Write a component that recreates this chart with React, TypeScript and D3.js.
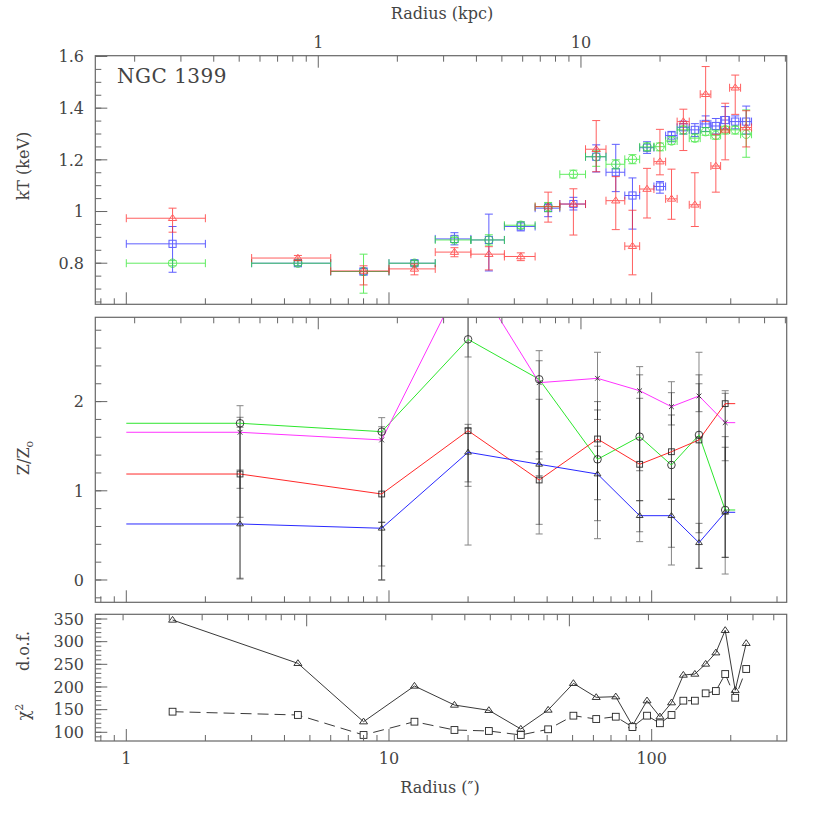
import React from "react";
import * as d3 from "d3";

// ---------- data ----------
// temperature profile bins (arcsec)
const radii = [1.5, 4.5, 8, 12.5, 17.75, 24, 31.75, 40.35, 50.35, 61.5, 73, 84.5, 96, 107.5, 119, 132, 146, 160.5, 175.5, 190.5, 208, 229];
const binLo = [1, 3, 6, 10, 15, 20.5, 27.5, 36, 44.7, 56, 67, 79, 90, 102, 113, 125, 139, 153, 168, 183, 198, 218];
const binHi = [2, 6, 10, 15, 20.5, 27.5, 36, 44.7, 56, 67, 79, 90, 102, 113, 125, 139, 153, 168, 183, 198, 218, 240];

const ktRed = [0.974, 0.82, 0.77, 0.778, 0.843, 0.835, 0.826, 1.019, 1.029, 1.241, 1.042, 0.866, 1.087, 1.193, 1.049, 1.348, 1.026, 1.454, 1.176, 1.316, 1.479, 1.325];
const ktRedLo = [0.92, 0.81, 0.716, 0.755, 0.825, 0.774, 0.81, 0.959, 0.909, 1.154, 0.93, 0.755, 0.975, 1.142, 0.97, 1.236, 0.942, 1.348, 1.075, 1.2, 1.376, 1.25];
const ktRedHi = [1.013, 0.83, 0.79, 0.797, 0.86, 0.864, 0.84, 1.075, 1.088, 1.352, 1.135, 1.005, 1.167, 1.318, 1.164, 1.396, 1.15, 1.561, 1.299, 1.419, 1.528, 1.39];

const ktBlue = [0.875, 0.8, 0.768, 0.8, 0.894, 0.89, 0.942, 1.013, 1.029, 1.212, 1.152, 1.062, 1.247, 1.097, 1.294, 1.326, 1.316, 1.339, 1.331, 1.354, 1.348, 1.348];
const ktBlueLo = [0.765, 0.79, 0.755, 0.79, 0.871, 0.77, 0.925, 0.98, 1.006, 1.153, 1.077, 0.932, 1.225, 1.071, 1.27, 1.3, 1.29, 1.31, 1.3, 1.32, 1.32, 1.3];
const ktBlueHi = [0.942, 0.81, 0.78, 0.81, 0.918, 0.99, 0.96, 1.03, 1.055, 1.258, 1.26, 1.13, 1.27, 1.116, 1.31, 1.35, 1.34, 1.37, 1.36, 1.406, 1.37, 1.408];

const ktGreen = [0.8, 0.8, 0.768, 0.8, 0.89, 0.89, 0.947, 1.019, 1.144, 1.212, 1.183, 1.202, 1.25, 1.251, 1.273, 1.316, 1.284, 1.309, 1.295, 1.316, 1.316, 1.299];
const ktGreenLo = [0.79, 0.79, 0.684, 0.79, 0.88, 0.87, 0.935, 1.0, 1.13, 1.175, 1.165, 1.185, 1.235, 1.235, 1.26, 1.3, 1.27, 1.295, 1.28, 1.3, 1.3, 1.21];
const ktGreenHi = [0.81, 0.81, 0.835, 0.81, 0.9, 0.91, 0.96, 1.035, 1.16, 1.235, 1.2, 1.22, 1.265, 1.265, 1.29, 1.33, 1.3, 1.325, 1.315, 1.33, 1.33, 1.393];

// abundance profile
const zRadii = [2.71, 9.38, 20, 37.3, 62.2, 90, 118.9, 151.4, 190.5];
const zLineStart = 1;
const zLineEnd = 208;
const zGreen = [1.757, 1.663, 2.698, 2.25, 1.353, 1.607, 1.289, 1.626, 0.785];
const zGreenLo = [0.011, 0.157, 0.392, 0.516, 0.665, 0.43, 0.168, 0.131, 0.067];
const zGreenHi = [1.954, 1.82, 3.6, 2.571, 1.906, 2.392, 2.223, 2.553, 1.488];
const zMagenta = [1.656, 1.57, 3.5, 2.212, 2.261, 2.122, 1.943, 2.063, 1.764];
const zMagentaLo = [1.028, 0.0, 2.5, 1.356, 1.8, 1.225, 1.738, 1.887, 1.337];
const zMagentaHi = [1.824, 1.718, 4.5, 2.458, 2.553, 2.3, 2.1, 2.3, 2.122];
const zRed = [1.188, 0.964, 1.674, 1.121, 1.581, 1.297, 1.438, 1.57, 1.977];
const zRedLo = [0.703, 0.647, 1.1, 0.624, 0.463, 0.889, 0.905, 0.53, 0.254];
const zRedHi = [1.712, 1.66, 1.745, 2.026, 2.0, 2.037, 1.85, 2.2, 2.093];
const zBlue = [0.628, 0.58, 1.432, 1.297, 1.188, 0.721, 0.721, 0.418, 0.759];
const zBlueLo = [0.02, 0.0, 1.05, 1.169, 0.9, 0.541, 0.367, 0.131, 0.254];
const zBlueHi = [1.233, 0.647, 1.7, 1.438, 1.5, 0.889, 0.905, 0.635, 1.607];

// chi-square profile
const chiA = [347.8, 252.2, 123.4, 202.2, 160.2, 148.5, 107.3, 149.2, 208.1, 177.2, 178.6, 114.6, 169.8, 134.4, 165.4, 226.4, 228.6, 250.7, 275.6, 325.1, 192.7, 296.4];
const chiB = [145.5, 138.2, 94.1, 123.4, 105.1, 102.9, 94.1, 106.6, 136.7, 129.3, 134.4, 111.6, 136.7, 119.9, 138.2, 169.8, 169.8, 186.0, 191.1, 228.6, 176.3, 239.7];

// axes
const arcTicks = [0.8, 0.9, 1, 2, 3, 4, 5, 6, 7, 8, 9, 10, 20, 30, 40, 50, 60, 70, 80, 90, 100, 200, 300];
const arcMajor = [1, 10, 100];
const arcLabels = ["1", "10", "100"];
const kpcTicks = [0.2, 0.3, 0.4, 0.5, 0.6, 0.7, 0.8, 0.9, 1, 2, 3, 4, 5, 6, 7, 8, 9, 10, 20, 30, 40, 50, 60];
const kpcMajor = [1, 10];
const kpcLabels = ["1", "10"];
const ktMajor = [0.8, 1, 1.2, 1.4, 1.6];
const ktLabels = ["0.8", "1", "1.2", "1.4", "1.6"];
const zMajor = [0, 1, 2];
const zLabels = ["0", "1", "2"];
const chiMajor = [100, 150, 200, 250, 300, 350];
const chiLabels = ["100", "150", "200", "250", "300", "350"];

// ---------- layout ----------
const X0 = 95.3, X1 = 786.7;
const x = d3.scaleLog().domain([0.762, 326.6]).range([X0, X1]);
const P1 = { top: 55.7, bottom: 304.3 };
const P2 = { top: 317.3, bottom: 602.3 };
const P3 = { top: 614.3, bottom: 741 };
const yKt = d3.scaleLinear().domain([0.641, 1.603]).range([P1.bottom, P1.top]);
const yZ = d3.scaleLinear().domain([-0.25, 2.945]).range([P2.bottom, P2.top]);
const yChi = d3.scaleLinear().domain([80.8, 360.4]).range([P3.bottom, P3.top]);

const FONT = "'DejaVu Serif', 'Liberation Serif', serif";
const TXT = "#444";
const FRAME = "#666";
const RED = "#ff2a2a";
const BLUE = "#2a2aff";
const GREEN = "#2ee62e";
const MAG = "#ff33ff";

function Marker({ type, cx, cy, s, color, sw = 1 }: any) {
  if (type === "tri") {
    const h = s * 0.9;
    return <path d={`M${cx},${cy - h} L${cx + s},${cy + h * 0.6} L${cx - s},${cy + h * 0.6} Z`} fill="none" stroke={color} strokeWidth={sw} />;
  }
  if (type === "sq") return <rect x={cx - s * 0.85} y={cy - s * 0.85} width={s * 1.7} height={s * 1.7} fill="none" stroke={color} strokeWidth={sw} />;
  if (type === "circ") return <circle cx={cx} cy={cy} r={s} fill="none" stroke={color} strokeWidth={sw} />;
  return (
    <path d={`M${cx - s * 0.7},${cy - s * 0.7} L${cx + s * 0.7},${cy + s * 0.7} M${cx - s * 0.7},${cy + s * 0.7} L${cx + s * 0.7},${cy - s * 0.7}`} fill="none" stroke={color} strokeWidth={sw} />
  );
}

function PanelAxes({ p, y, major, labels, minor, kpcFactor, showKpcLabels, showArcLabels }: any) {
  const els: any[] = [];
  arcTicks.forEach((t, i) => {
    const L = arcMajor.includes(t) ? 12 : 6;
    const xx = x(t);
    els.push(<line key={"ab" + i} x1={xx} x2={xx} y1={p.bottom} y2={p.bottom - L} stroke={FRAME} />);
  });
  kpcTicks.forEach((t, i) => {
    const r = t * kpcFactor;
    if (r < x.domain()[0] || r > x.domain()[1]) return;
    const L = kpcMajor.includes(t) ? 12 : 6;
    const xx = x(r);
    els.push(<line key={"kt" + i} x1={xx} x2={xx} y1={p.top} y2={p.top + L} stroke={FRAME} />);
  });
  minor.forEach((v: number, i: number) => {
    const yy = y(v);
    if (yy < p.top - 0.5 || yy > p.bottom + 0.5) return;
    els.push(<line key={"ym" + i} x1={X0} x2={X0 + 6} y1={yy} y2={yy} stroke={FRAME} />);
  });
  major.forEach((v: number, i: number) => {
    const yy = y(v);
    els.push(<line key={"yM" + i} x1={X0} x2={X0 + 12} y1={yy} y2={yy} stroke={FRAME} />);
    els.push(
      <text key={"yl" + i} x={84} y={yy} dy="0.36em" textAnchor="end" fontSize={16} fill={TXT} fontFamily={FONT}>
        {labels[i]}
      </text>
    );
  });
  if (showKpcLabels) {
    kpcMajor.forEach((t, i) => {
      els.push(
        <text key={"kl" + i} x={x(t * kpcFactor)} y={48} textAnchor="middle" fontSize={16} fill={TXT} fontFamily={FONT}>
          {kpcLabels[i]}
        </text>
      );
    });
  }
  if (showArcLabels) {
    arcMajor.forEach((t, i) => {
      els.push(
        <text key={"al" + i} x={x(t)} y={764} textAnchor="middle" fontSize={16} fill={TXT} fontFamily={FONT}>
          {arcLabels[i]}
        </text>
      );
    });
  }
  els.push(<rect key="frame" x={X0} y={p.top} width={X1 - X0} height={p.bottom - p.top} fill="none" stroke={FRAME} strokeWidth={1.2} />);
  return <g>{els}</g>;
}

function KtSeries({ vals, lo, hi, color, type }: any) {
  return (
    <g opacity={0.75}>
      {vals.map((v: number, i: number) => {
        const cx = x(radii[i]);
        const cy = yKt(v);
        const xl = x(binLo[i]);
        const xh = x(binHi[i]);
        const yl = yKt(lo[i]);
        const yh = yKt(hi[i]);
        return (
          <g key={i} stroke={color} strokeWidth={1}>
            <line x1={xl} x2={xh} y1={cy} y2={cy} />
            <line x1={xl} x2={xl} y1={cy - 4} y2={cy + 4} />
            <line x1={xh} x2={xh} y1={cy - 4} y2={cy + 4} />
            <line x1={cx} x2={cx} y1={yl} y2={yh} />
            <line x1={cx - 4} x2={cx + 4} y1={yl} y2={yl} />
            <line x1={cx - 4} x2={cx + 4} y1={yh} y2={yh} />
            <Marker type={type} cx={cx} cy={cy} s={4.2} color={color} />
          </g>
        );
      })}
    </g>
  );
}

function ZSeries({ vals, color }: any) {
  const pts: [number, number][] = [[zLineStart, vals[0]], ...zRadii.map((r, i) => [r, vals[i]] as [number, number]), [zLineEnd, vals[vals.length - 1]]];
  const line = d3.line<[number, number]>().x((d) => x(d[0])).y((d) => yZ(d[1]));
  return <path d={line(pts) || ""} fill="none" stroke={color} strokeWidth={1} />;
}

function ZErr({ lo, hi }: any) {
  return (
    <g stroke="#111" strokeWidth={1} opacity={0.5}>
      {zRadii.map((r, i) => {
        const cx = x(r);
        return (
          <g key={i}>
            <line x1={cx} x2={cx} y1={yZ(lo[i])} y2={yZ(hi[i])} />
            <line x1={cx - 3.5} x2={cx + 3.5} y1={yZ(lo[i])} y2={yZ(lo[i])} />
            <line x1={cx - 3.5} x2={cx + 3.5} y1={yZ(hi[i])} y2={yZ(hi[i])} />
          </g>
        );
      })}
    </g>
  );
}

function ZMarks({ vals, type }: any) {
  return (
    <g opacity={0.85}>
      {zRadii.map((r, i) => (
        <Marker key={i} type={type} cx={x(r)} cy={yZ(vals[i])} s={type === "circ" ? 3.8 : 3.4} color="#222" />
      ))}
    </g>
  );
}

export default function App() {
  const ktMinor = d3.range(0.65, 1.6001, 0.05);
  const zMinor = d3.range(-0.2, 2.9001, 0.2);
  const chiMinor = d3.range(90, 360.01, 10);
  const chiLine = d3.line<number>().x((_, i) => x(radii[i])).y((d) => yChi(d));
  return (
    <svg width={830} height={830} style={{ position: "absolute", left: 0, top: 0, background: "#fff" }}>
      <defs>
        <clipPath id="c1"><rect x={X0} y={P1.top} width={X1 - X0} height={P1.bottom - P1.top} /></clipPath>
        <clipPath id="c2"><rect x={X0} y={P2.top} width={X1 - X0} height={P2.bottom - P2.top} /></clipPath>
        <clipPath id="c3"><rect x={X0} y={P3.top} width={X1 - X0} height={P3.bottom - P3.top} /></clipPath>
      </defs>
      <rect x={0} y={0} width={830} height={830} fill="#fff" />

      {/* Panel 1 */}
      <g clipPath="url(#c1)">
        <KtSeries vals={ktBlue} lo={ktBlueLo} hi={ktBlueHi} color={BLUE} type="sq" />
        <KtSeries vals={ktGreen} lo={ktGreenLo} hi={ktGreenHi} color={GREEN} type="circ" />
        <KtSeries vals={ktRed} lo={ktRedLo} hi={ktRedHi} color={RED} type="tri" />
      </g>
      <PanelAxes p={P1} y={yKt} major={ktMajor} labels={ktLabels} minor={ktMinor} kpcFactor={5.38} showKpcLabels={true} showArcLabels={false} />
      <text x={117} y={83} fontSize={20} fill={TXT} fontFamily={FONT} letterSpacing={0.5}>NGC 1399</text>

      {/* Panel 2 */}
      <g clipPath="url(#c2)">
        <ZErr lo={zGreenLo} hi={zGreenHi} />
        <ZErr lo={zMagentaLo} hi={zMagentaHi} />
        <ZErr lo={zRedLo} hi={zRedHi} />
        <ZErr lo={zBlueLo} hi={zBlueHi} />
        <ZSeries vals={zGreen} color={GREEN} />
        <ZSeries vals={zMagenta} color={MAG} />
        <ZSeries vals={zRed} color={RED} />
        <ZSeries vals={zBlue} color={BLUE} />
        <ZMarks vals={zGreen} type="circ" />
        <ZMarks vals={zMagenta} type="cross" />
        <ZMarks vals={zRed} type="sq" />
        <ZMarks vals={zBlue} type="tri" />
      </g>
      <PanelAxes p={P2} y={yZ} major={zMajor} labels={zLabels} minor={zMinor} kpcFactor={5.38} showKpcLabels={false} showArcLabels={false} />

      {/* Panel 3 */}
      <g clipPath="url(#c3)">
        <path d={chiLine(chiA) || ""} fill="none" stroke="#222" strokeWidth={0.9} />
        <path d={chiLine(chiB) || ""} fill="none" stroke="#222" strokeWidth={0.9} strokeDasharray="11 6" />
        {chiA.map((v, i) => (
          <Marker key={"a" + i} type="tri" cx={x(radii[i])} cy={yChi(v)} s={4} color="#222" sw={0.9} />
        ))}
        {chiB.map((v, i) => (
          <rect key={"b" + i} x={x(radii[i]) - 3.4} y={yChi(v) - 3.4} width={6.8} height={6.8} fill="#fff" stroke="#222" strokeWidth={0.9} />
        ))}
      </g>
      <PanelAxes p={P3} y={yChi} major={chiMajor} labels={chiLabels} minor={chiMinor} kpcFactor={4.86} showKpcLabels={false} showArcLabels={true} />

      {/* axis titles */}
      <text x={442} y={19} textAnchor="middle" fontSize={16} fill={TXT} fontFamily={FONT}>Radius (kpc)</text>
      <text x={440} y={793} textAnchor="middle" fontSize={16} fill={TXT} fontFamily={FONT}>Radius (″)</text>
      <text transform="translate(29,166) rotate(-90)" textAnchor="middle" fontSize={16} fill={TXT} fontFamily={FONT}>kT (keV)</text>
      <text transform="translate(29,458) rotate(-90)" textAnchor="middle" fontSize={16} fill={TXT} fontFamily={FONT}>
        Z/Z<tspan fontSize={11} dy="4">o</tspan>
      </text>
      <text transform="translate(29,651) rotate(-90)" textAnchor="middle" fontSize={16} fill={TXT} fontFamily={FONT}>d.o.f.</text>
      <text transform="translate(29,712) rotate(-90)" textAnchor="middle" fontSize={16} fill={TXT} fontFamily={FONT}>
        χ<tspan fontSize={11} dy="-6">2</tspan>
      </text>
    </svg>
  );
}
